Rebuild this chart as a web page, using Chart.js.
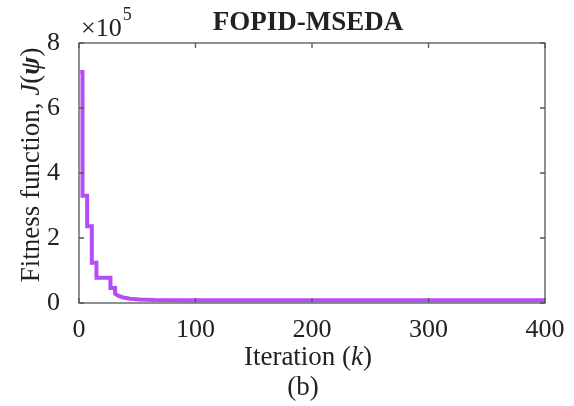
<!DOCTYPE html>
<html>
<head>
<meta charset="utf-8">
<script src="https://cdn.jsdelivr.net/npm/chart.js@4"></script>
<style>
  html, body { margin: 0; padding: 0; background: #fff; }
  #wrap { width: 574px; height: 406px; }
</style>
</head>
<body>
<div id="wrap"><canvas id="fitChart" width="574" height="406"></canvas></div>
<script>
// iteration / fitness (steps are drawn as repeated x values)
const iteration = [1, 3, 3, 7, 7, 11, 11, 15, 15, 27, 27, 31, 31, 34, 38, 44, 52, 65, 100, 200, 300, 400];
const fitness = [711000, 711000, 330000, 330000, 236000, 236000, 124000, 124000, 78000, 78000, 46000, 46000, 28000,
  22000, 17000, 13000, 10500, 9000, 8500, 8500, 8500, 8500];
const xTicks = [0, 100, 200, 300, 400];
const yTicks = [0, 200000, 400000, 600000, 800000];

const serif = "'Liberation Serif', 'DejaVu Serif', serif";
const textColor = '#222';
const lineColor = '#b54cf7';

const points = iteration.map((k, i) => ({ x: k, y: fitness[i] }));

// draws the frame, the inner tick marks and the rich-text labels
const decorations = {
  id: 'decorations',
  afterDraw(chart) {
    const { ctx, chartArea: a, scales } = chart;
    ctx.save();
    ctx.strokeStyle = '#555';
    ctx.lineWidth = 1.3;
    ctx.strokeRect(a.left, a.top, a.right - a.left, a.bottom - a.top);
    ctx.beginPath();
    xTicks.forEach(v => {
      const px = scales.x.getPixelForValue(v);
      ctx.moveTo(px, a.bottom); ctx.lineTo(px, a.bottom - 5);
      ctx.moveTo(px, a.top); ctx.lineTo(px, a.top + 5);
    });
    yTicks.forEach(v => {
      const py = scales.y.getPixelForValue(v);
      ctx.moveTo(a.left, py); ctx.lineTo(a.left + 5, py);
      ctx.moveTo(a.right, py); ctx.lineTo(a.right - 5, py);
    });
    ctx.stroke();

    ctx.fillStyle = textColor;
    ctx.textBaseline = 'alphabetic';

    // title
    ctx.font = 'bold 27px ' + serif;
    ctx.textAlign = 'center';
    ctx.fillText('FOPID-MSEDA', 308, 30);

    // exponent
    ctx.textAlign = 'left';
    ctx.font = '26px ' + serif;
    ctx.fillText('\u00d710', 81, 36);
    const w10 = ctx.measureText('\u00d710').width;
    ctx.font = '18px ' + serif;
    ctx.fillText('5', 81 + w10 + 1, 20);

    // mixed-style line of text, centred at cx
    const drawParts = (parts, cx, cy) => {
      let total = 0;
      parts.forEach(p => { ctx.font = p[1]; total += ctx.measureText(p[0]).width; });
      let x = cx - total / 2;
      parts.forEach(p => { ctx.font = p[1]; ctx.fillText(p[0], x, cy); x += ctx.measureText(p[0]).width; });
    };

    drawParts([
      ['Iteration (', '27px ' + serif],
      ['k', 'italic 27px ' + serif],
      [')', '27px ' + serif]
    ], 308, 365);
    drawParts([['(b)', '27px ' + serif]], 303, 395);

    ctx.translate(39, 165);
    ctx.rotate(-Math.PI / 2);
    drawParts([
      ['Fitness function, ', '27px ' + serif],
      ['J', 'italic 27px ' + serif],
      ['(', '27px ' + serif],
      ['\u03c8', 'bold italic 27px ' + serif],
      [')', '27px ' + serif]
    ], 0, 0);
    ctx.restore();
  }
};

new Chart(document.getElementById('fitChart'), {
  type: 'line',
  data: {
    datasets: [{
      data: points,
      borderColor: lineColor,
      borderWidth: 4,
      pointRadius: 0,
      fill: false,
      tension: 0,
      borderJoinStyle: 'miter'
    }]
  },
  options: {
    responsive: false,
    animation: false,
    layout: { padding: { top: 43, right: 29, left: 0, bottom: 0 } },
    plugins: { legend: { display: false }, tooltip: { enabled: false } },
    scales: {
      x: {
        type: 'linear',
        min: 0, max: 400,
        afterBuildTicks: s => { s.ticks = xTicks.map(v => ({ value: v })); },
        afterFit: s => { s.height = 103; },
        grid: { display: false },
        border: { display: false },
        ticks: { color: textColor, font: { family: serif, size: 26 }, padding: 4, maxRotation: 0 }
      },
      y: {
        min: 0, max: 800000,
        afterBuildTicks: s => { s.ticks = yTicks.map(v => ({ value: v })); },
        afterFit: s => { s.width = 79; },
        grid: { display: false },
        border: { display: false },
        ticks: {
          color: textColor, font: { family: serif, size: 26 }, padding: 11,
          callback: v => String(v / 100000)
        }
      }
    }
  },
  plugins: [decorations]
});
</script>
</body>
</html>
